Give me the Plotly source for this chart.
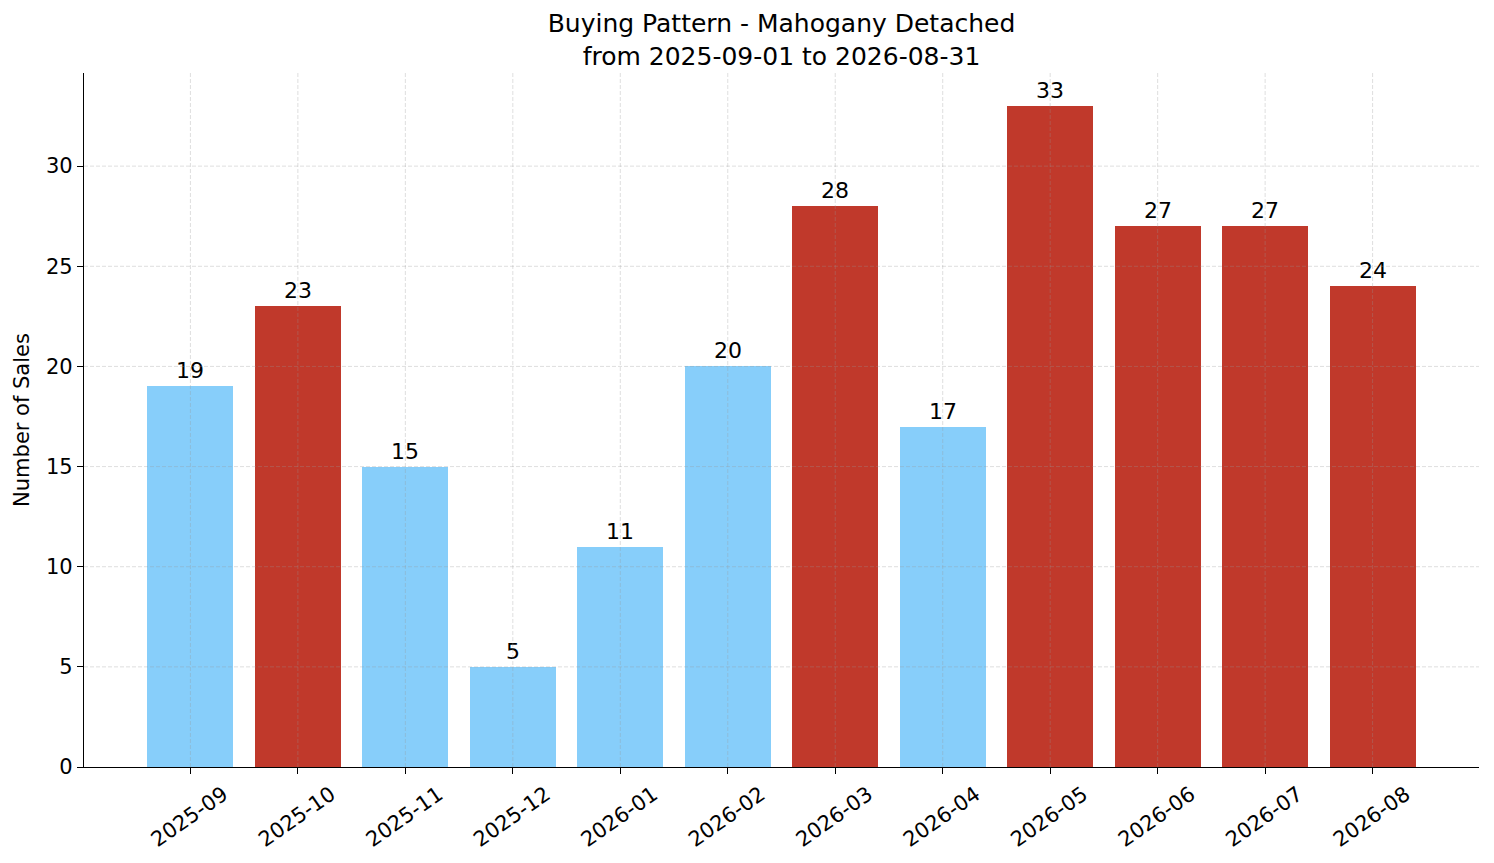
import plotly.graph_objects as go

months = ["2025-09", "2025-10", "2025-11", "2025-12", "2026-01", "2026-02",
          "2026-03", "2026-04", "2026-05", "2026-06", "2026-07", "2026-08"]
sales = [19, 23, 15, 5, 11, 20, 28, 17, 33, 27, 27, 24]
# red = busy month, light blue = quieter month
bar_colors = ["#87CEFA", "#C0392B", "#87CEFA", "#87CEFA", "#87CEFA", "#87CEFA",
              "#C0392B", "#87CEFA", "#C0392B", "#C0392B", "#C0392B", "#C0392B"]
y_ticks = [0, 5, 10, 15, 20, 25, 30]

FONT = "DejaVu Sans"
GRID = "rgba(150,150,150,0.4)"

# page has an 8px body margin, so the figure is a bit smaller than the window
W, H = 1486, 855

fig = go.Figure()
fig.add_trace(go.Bar(
    x=list(range(len(months))),
    y=sales,
    marker=dict(color=bar_colors, line=dict(width=0)),
    width=0.8,
    text=[str(v) for v in sales],
    textposition="outside",
    textfont=dict(family=FONT, size=22, color="black"),
    cliponaxis=False,
))

# matplotlib-style dashed grid drawn over the bars
for i in range(len(months)):
    fig.add_shape(type="line", xref="x", yref="paper", x0=i, x1=i, y0=0, y1=1,
                  line=dict(color=GRID, width=0.8, dash="4px,2px"), layer="above")
for t in y_ticks[1:]:
    fig.add_shape(type="line", xref="paper", yref="y", x0=0, x1=1, y0=t, y1=t,
                  line=dict(color=GRID, width=0.8, dash="4px,2px"), layer="above")

fig.update_layout(
    width=W, height=H,
    paper_bgcolor="white", plot_bgcolor="white",
    margin=dict(l=76, r=15, t=65, b=96),
    showlegend=False,
    font=dict(family=FONT, size=21, color="black"),
    title=dict(text="Buying Pattern - Mahogany Detached<br>from 2025-09-01 to 2026-08-31",
               x=(76 + W - 15) / 2 / W, xanchor="center",
               y=1 - 24 / H, yanchor="middle",
               font=dict(family=FONT, size=25, color="black")),
    bargap=0,
)
fig.update_xaxes(
    range=[-0.99, 11.99], automargin=False,
    tickmode="array", tickvals=list(range(len(months))), ticktext=months,
    tickangle=-35, ticks="outside", ticklen=6, tickwidth=1.2, tickcolor="black",
    showline=True, linecolor="black", linewidth=1.3, showgrid=False, zeroline=False,
    ticklabelshift=33, ticklabelstandoff=0,
    tickfont=dict(family=FONT, size=21, color="black"),
)
fig.update_yaxes(
    range=[0, 34.65], automargin=False,
    tickmode="array", tickvals=y_ticks,
    ticks="outside", ticklen=6, tickwidth=1.2, tickcolor="black",
    showline=True, linecolor="black", linewidth=1.3, showgrid=False, zeroline=False,
    title=dict(text="Number of Sales", font=dict(family=FONT, size=21, color="black"), standoff=10),
    tickfont=dict(family=FONT, size=21, color="black"),
)

fig.write_html("out.html")
